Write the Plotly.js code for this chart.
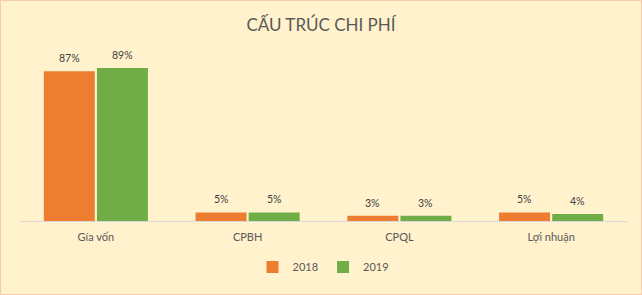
<!DOCTYPE html>
<html>
<head>
<meta charset="utf-8">
<script src="https://cdn.plot.ly/plotly-3.0.1.min.js"></script>
<style>
html,body{margin:0;padding:0;background:#FFF2CC;}
#wrap{width:642px;height:295px;box-sizing:border-box;border:1px solid #F8CBAD;background:#FFF2CC;}
#chart{width:640px;height:293px;}
</style>
</head>
<body>
<div id="wrap"><div id="chart"></div></div>
<script>
const categories = ["Gía vốn", "CPBH", "CPQL", "Lợi nhuận"];
const values2018 = [0.87, 0.05, 0.03, 0.05];
const values2019 = [0.89, 0.05, 0.03, 0.04];
const seriesNames = ["2018", "2019"];
const titleText = "CẤU TRÚC CHI PHÍ";

const pct = v => Math.round(v * 100) + "%";
const FONT = "Lato, 'Open Sans', sans-serif";

const W = 640, H = 293;
const margin = {l: 19, r: 14, t: 48, b: 73};
const bargap = 0.30;
const catW = (W - margin.l - margin.r) / categories.length;
const halfSlot = (1 - bargap) * catW / 4;

const traces = [
  {type: "bar", name: seriesNames[0], x: categories, y: values2018,
   marker: {color: "#ED7D31"}, hoverinfo: "none"},
  {type: "bar", name: seriesNames[1], x: categories, y: values2019,
   marker: {color: "#70AD47"}, hoverinfo: "none"}
];

const labelFont = {size: 10.5, color: "#404040", family: FONT};
const annotations = [];
[values2018, values2019].forEach((vals, s) => {
  vals.forEach((v, i) => {
    annotations.push({x: categories[i], y: v, xref: "x", yref: "y", text: pct(v),
      showarrow: false, xanchor: "center", yanchor: "middle",
      xshift: (s === 0 ? -1 : 1) * halfSlot, yshift: 13, font: labelFont});
  });
});

const layout = {
  width: W, height: H, margin: margin,
  paper_bgcolor: "#FFF2CC", plot_bgcolor: "#FFF2CC",
  font: {family: FONT, color: "#595959"},
  title: {text: titleText, x: 0.5, xanchor: "center", y: 0.918, yanchor: "middle",
          font: {size: 17, color: "#595959", family: FONT}},
  barmode: "group", bargap: bargap, bargroupgap: 0.04,
  xaxis: {showline: true, linecolor: "#D9D9D9", linewidth: 1, ticks: "",
          ticklabelstandoff: 6,
          tickfont: {size: 11, color: "#595959", family: FONT}, fixedrange: true},
  yaxis: {range: [0, 1.0], visible: false, showgrid: false, zeroline: false, fixedrange: true},
  annotations: annotations,
  showlegend: true,
  legend: {orientation: "h", x: 0.5, xanchor: "center", y: -0.267, yanchor: "middle",
           font: {size: 11, color: "#595959", family: FONT}, itemwidth: 30,
           bgcolor: "rgba(0,0,0,0)"}
};

Plotly.newPlot("chart", traces, layout, {displayModeBar: false, staticPlot: true});
</script>
</body>
</html>
